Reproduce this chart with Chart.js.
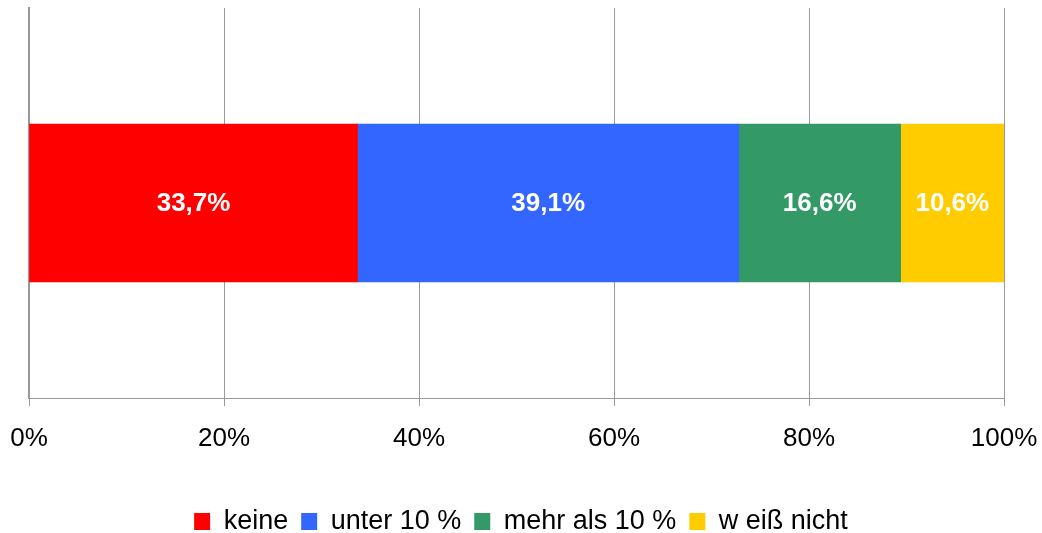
<!DOCTYPE html>
<html>
<head>
<meta charset="utf-8">
<script src="https://cdn.jsdelivr.net/npm/chart.js@4/dist/chart.umd.min.js"></script>
<style>
    html, body { margin: 0; padding: 0; background: #fff; overflow: hidden; }
    #box { width: 1042px; height: 533px; }
</style>
</head>
<body>
<div id="box"><canvas id="grafik"></canvas></div>
<script>
// Daten aus der Abbildung
var kategorien = ['Anteil'];
var serien = ['keine', 'unter 10 %', 'mehr als 10 %', 'w eiß nicht'];
var werte = [33.7, 39.1, 16.6, 10.6];
var farben = ['#FF0000', '#3366FF', '#339966', '#FFCC00'];
var achsenTicks = [0, 20, 40, 60, 80, 100];

// Prozentwerte in die Balken schreiben
var etiketten = {
    id: 'etiketten',
    afterDatasetsDraw: function (chart) {
        var ctx = chart.ctx;
        ctx.save();
        ctx.fillStyle = '#ffffff';
        ctx.font = 'bold 26px "Liberation Sans", Arial, sans-serif';
        ctx.textAlign = 'center';
        ctx.textBaseline = 'middle';
        chart.data.datasets.forEach(function (ds, i) {
            chart.getDatasetMeta(i).data.forEach(function (bar, j) {
                var p = bar.getCenterPoint();
                ctx.fillText(ds.data[j].toFixed(1).replace('.', ',') + '%', p.x, p.y + 1);
            });
        });
        ctx.restore();
    }
};

var datensaetze = serien.map(function (name, i) {
    return {
        label: name,
        data: [werte[i]],
        backgroundColor: farben[i],
        borderWidth: 0,
        barThickness: 158
    };
});

new Chart(document.getElementById('grafik'), {
    type: 'bar',
    data: { labels: kategorien, datasets: datensaetze },
    plugins: [etiketten],
    options: {
        indexAxis: 'y',
        responsive: true,
        maintainAspectRatio: false,
        animation: false,
        layout: { padding: { top: 8, right: 0, left: 0, bottom: -12 } },
        scales: {
            x: {
                stacked: true,
                min: 0,
                max: 100,
                afterBuildTicks: function (scale) {
                    scale.ticks = achsenTicks.map(function (v) { return { value: v }; });
                },
                afterFit: function (scale) {
                    scale.height = 97;
                    scale.paddingLeft = 0;
                    scale.paddingRight = 38;
                },
                grid: { color: '#999999', lineWidth: 1, tickLength: 8 },
                border: { color: '#999999', width: 1 },
                ticks: {
                    color: '#000000',
                    padding: 17,
                    maxRotation: 0,
                    font: { family: '"Liberation Sans", Arial, sans-serif', size: 26 },
                    callback: function (v) { return v + '%'; }
                }
            },
            y: {
                stacked: true,
                afterFit: function (scale) { scale.width = 29; },
                grid: { display: false },
                border: { color: '#999999', width: 2 },
                ticks: { display: false }
            }
        },
        plugins: {
            tooltip: { enabled: false },
            legend: {
                position: 'bottom',
                labels: {
                    color: '#000000',
                    boxWidth: 16,
                    boxHeight: 17,
                    padding: 13,
                    font: { family: '"Liberation Sans", Arial, sans-serif', size: 27 }
                }
            }
        }
    }
});
</script>
</body>
</html>
